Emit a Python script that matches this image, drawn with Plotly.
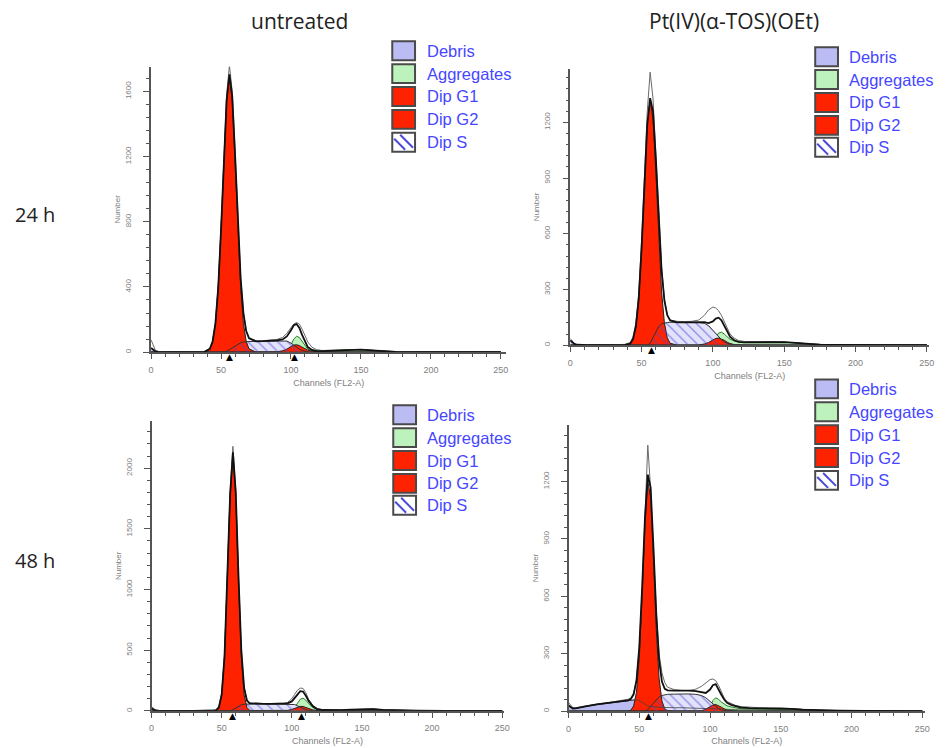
import numpy as np
import plotly.graph_objects as go

# figure drawn from the page origin; kept a hair smaller than the 949 x 748 window
W, H = 947, 746

# ---------------- data ----------------
channels = [0, 1, 2, 3, 5, 8, 12, 20, 30, 38,
            42, 44, 46, 48, 50, 52, 54, 56, 58, 60,
            62, 64, 66, 68, 70, 75, 80, 85, 90, 94,
            97, 100, 102, 104, 106, 108, 110, 112, 115, 118,
            122, 128, 135, 142, 150, 158, 165, 175, 190, 210,
            230, 250]

Z10 = [0] * 10

# Panel 1 : 24 h, untreated
data1 = [75, 55, 30, 12, 4, 2, 1, 1, 2, 4,
         22, 70, 185, 410, 770, 1200, 1580, 1760, 1600, 1240,
         810, 460, 245, 130, 88, 70, 70, 72, 78, 90,
         115, 150, 172, 182, 172, 140, 100, 62, 30, 16,
         10, 10, 13, 16, 16, 11, 6, 3, 1, 1,
         0, 0]
debris1 = [25, 20, 12, 5, 1, 0, 0, 0, 0, 0] + Z10 + Z10 + Z10 + Z10 + [0, 0]
agg1 = Z10 + Z10 + Z10 + [10, 45, 80, 97, 90, 65, 38, 18, 8, 6] + [6, 8, 12, 15, 15, 10, 5, 2, 0, 0] + [0, 0]
g1_1 = Z10 + [20, 65, 176, 397, 749, 1177, 1543, 1690, 1543, 1177] + [749, 397, 176, 65, 20, 0, 0, 0, 0, 0] + Z10 + Z10 + [0, 0]
g2_1 = Z10 + Z10 + [0, 0, 0, 0, 0, 0, 0, 0, 2, 8] + [18, 34, 43, 45, 40, 30, 20, 12, 5, 2] + Z10 + [0, 0]
s1 = Z10 + [0, 0, 0, 0, 0, 0, 5, 15, 28, 40] + [50, 57, 62, 64, 65, 66, 67, 68, 70, 70] + [68, 55, 42, 30, 18, 9, 4, 1, 0, 0] + Z10 + [0, 0]

# Panel 2 : 24 h, Pt(IV)(a-TOS)(OEt)
data2 = [35, 28, 15, 8, 3, 2, 1, 1, 2, 4,
         14, 45, 120, 275, 560, 930, 1260, 1470, 1330, 1030,
         690, 420, 250, 165, 135, 128, 127, 128, 135, 160,
         190, 205, 200, 185, 160, 125, 90, 60, 38, 25,
         20, 18, 18, 19, 18, 13, 8, 4, 2, 1,
         0, 0]
debris2 = [25, 20, 12, 6, 2, 0, 0, 0, 0, 0] + Z10 + Z10 + Z10 + Z10 + [0, 0]
agg2 = Z10 + Z10 + Z10 + [0, 20, 45, 65, 70, 60, 45, 32, 22, 17] + [15, 15, 16, 17, 16, 12, 7, 3, 1, 0] + [0, 0]
g1_2 = Z10 + [8, 32, 100, 250, 520, 875, 1190, 1320, 1220, 930] + [570, 290, 120, 40, 10, 0, 0, 0, 0, 0] + Z10 + Z10 + [0, 0]
g2_2 = Z10 + Z10 + [0, 0, 0, 0, 0, 0, 0, 0, 1, 6] + [14, 28, 36, 38, 34, 26, 16, 9, 3, 1] + Z10 + [0, 0]
s2 = Z10 + [0, 0, 0, 0, 0, 0, 0, 10, 40, 75] + [100, 115, 120, 122, 123, 123, 123, 123, 122, 118] + [105, 80, 62, 45, 30, 18, 9, 4, 1, 0] + Z10 + [0, 0]

# Panel 3 : 48 h, untreated
data3 = [35, 25, 12, 5, 2, 1, 1, 1, 1, 2,
         3, 5, 10, 40, 150, 470, 1090, 1810, 2180, 1820,
         1110, 500, 190, 88, 66, 60, 60, 60, 61, 63,
         70, 100, 135, 170, 188, 185, 150, 95, 45, 20,
         10, 7, 8, 10, 14, 16, 9, 4, 2, 1,
         0, 0]
debris3 = [20, 14, 8, 3, 1, 0, 0, 0, 0, 0] + Z10 + Z10 + Z10 + Z10 + [0, 0]
agg3 = Z10 + Z10 + Z10 + [0, 10, 30, 62, 95, 105, 88, 60, 28, 12] + [6, 5, 6, 9, 13, 15, 8, 3, 1, 0] + [0, 0]
g1_3 = Z10 + [0, 0, 4, 28, 133, 446, 1060, 1780, 2120, 1780] + [1060, 446, 133, 28, 4, 0, 0, 0, 0, 0] + Z10 + Z10 + [0, 0]
g2_3 = Z10 + Z10 + [0, 0, 0, 0, 0, 0, 0, 0, 0, 1] + [4, 12, 20, 30, 37, 36, 28, 18, 8, 3] + [1, 0, 0, 0, 0, 0, 0, 0, 0, 0] + [0, 0]
s3 = Z10 + [0, 0, 0, 0, 0, 0, 0, 0, 10, 25] + [40, 50, 55, 57, 58, 58, 58, 58, 58, 58] + [58, 56, 52, 42, 30, 18, 9, 4, 1, 0] + Z10 + [0, 0]

# Panel 4 : 48 h, Pt(IV)(a-TOS)(OEt)
data4 = [45, 35, 25, 18, 18, 22, 28, 37, 47, 55,
         62, 70, 95, 165, 330, 640, 1010, 1390, 1160, 850,
         520, 300, 200, 150, 125, 112, 108, 108, 115, 130,
         150, 165, 168, 160, 135, 100, 70, 50, 38, 30,
         24, 20, 18, 17, 17, 13, 9, 6, 4, 2,
         1, 0]
debris4 = ([30, 25, 18, 14, 15, 20, 25, 35, 45, 52]
           + [56, 58, 60, 60, 55, 45, 35, 28, 24, 22]
           + [21, 20, 20, 19, 19, 18, 18, 17, 17, 16]
           + [15, 14, 13, 12, 11, 10, 10, 9, 9, 8]
           + [6, 5, 4, 4, 3, 3, 2, 2, 1, 1]
           + [0, 0])
agg4 = Z10 + Z10 + Z10 + [0, 25, 55, 70, 62, 48, 36, 28, 22, 18] + [12, 11, 11, 11, 12, 9, 6, 3, 2, 1] + [0, 0]
g1_4 = Z10 + [0, 5, 27, 99, 280, 600, 975, 1200, 1120, 790] + [425, 172, 53, 12, 2, 0, 0, 0, 0, 0] + Z10 + Z10 + [0, 0]
g2_4 = Z10 + Z10 + [0, 0, 0, 0, 0, 0, 0, 0, 0, 2] + [10, 24, 32, 35, 30, 21, 12, 6, 2, 0] + Z10 + [0, 0]
s4 = Z10 + [0, 0, 0, 0, 0, 0, 0, 8, 25, 45] + [62, 75, 82, 86, 88, 89, 90, 90, 88, 82] + [70, 50, 36, 24, 14, 7, 3, 1, 0, 0] + Z10 + [0, 0]

peak_marks = [[55.7, 102.5], [56.7], [57.7, 106.9], [56.5]]

col_titles = ["untreated", "Pt(IV)(α-TOS)(OEt)"]
row_titles = ["24 h", "48 h"]
legend_labels = ["Debris", "Aggregates", "Dip G1", "Dip G2", "Dip S"]
x_ticks = [0, 50, 100, 150, 200, 250]

# ---------------- layout helpers (target-picture pixels -> paper) ----------------
def px_x(p):
    return p / W

def px_y(p):
    return 1 - p / H

panels = [
    dict(data=data1, debris=debris1, agg=agg1, g1=g1_1, g2=g2_1, s=s1,
         ymax=1752, xmax=254, ytick=400, yminor=80, xdom=(149.5, 508.3), ydom=(67, 354)),
    dict(data=data2, debris=debris2, agg=agg2, g1=g1_2, g2=g2_2, s=s2,
         ymax=1489, xmax=251.6, ytick=300, yminor=60, xdom=(572.7, 935), ydom=(69, 347)),
    dict(data=data3, debris=debris3, agg=agg3, g1=g1_3, g2=g2_3, s=s3,
         ymax=2391, xmax=251, ytick=500, yminor=100, xdom=(150, 505.4), ydom=(423, 714.7)),
    dict(data=data4, debris=debris4, agg=agg4, g1=g1_4, g2=g2_4, s=s4,
         ymax=1497, xmax=252, ytick=300, yminor=60, xdom=(571, 930.9), ydom=(427, 715)),
]

RED = "#ff2200"
DEBRIS = "#bcbcf4"
AGG = "#bdf2bd"
HATCH = "#4a4ad8"
AX = "#555555"
TXT = "#808080"

fig = go.Figure()
annotations = []
shapes = []

for i, p in enumerate(panels, start=1):
    xa = "x" if i == 1 else f"x{i}"
    ya = "y" if i == 1 else f"y{i}"
    common = dict(x=channels, xaxis=xa, yaxis=ya, mode="lines", showlegend=False, hoverinfo="skip")
    fit = np.sum([p["debris"], p["agg"], p["g1"], p["g2"], p["s"]], axis=0)

    fig.add_trace(go.Scatter(y=p["debris"], fill="tozeroy", fillcolor=DEBRIS,
                             line=dict(color="#333", width=0.8), **common))
    fig.add_trace(go.Scatter(y=p["agg"], fill="tozeroy", fillcolor=AGG,
                             line=dict(color="#2a7a2a", width=1), **common))
    fig.add_trace(go.Scatter(y=p["s"], fill="tozeroy", fillcolor="#e2e2fb",
                             line=dict(color="#333", width=0), **common))
    fig.add_trace(go.Scatter(y=p["g1"], fill="tozeroy", fillcolor=RED,
                             line=dict(color="#222", width=1), **common))
    fig.add_trace(go.Scatter(y=p["g2"], fill="tozeroy", fillcolor=RED,
                             line=dict(color="#222", width=1), **common))
    fig.add_trace(go.Scatter(y=p["s"], fill="tozeroy", fillcolor="rgba(0,0,0,0)",
                             fillpattern=dict(shape="\\", fgcolor=HATCH, bgcolor="rgba(0,0,0,0)",
                                              size=7, solidity=0.22),
                             line=dict(color="#333", width=1), **common))
    fig.add_trace(go.Scatter(y=p["debris"], line=dict(color="#444", width=0.8), **common))
    fig.add_trace(go.Scatter(y=p["data"], line=dict(color="#6a6a6a", width=1), **common))
    fig.add_trace(go.Scatter(y=fit, line=dict(color="#111", width=1.8), **common))

    xkey = "xaxis" if i == 1 else f"xaxis{i}"
    ykey = "yaxis" if i == 1 else f"yaxis{i}"
    fig.update_layout(**{
        xkey: dict(domain=[px_x(p["xdom"][0]), px_x(p["xdom"][1])], range=[0, p["xmax"]],
                   anchor=ya, showline=True, linecolor=AX, linewidth=1.5, showgrid=False,
                   zeroline=False, ticks="outside", ticklen=5, tickwidth=1, tickcolor=AX,
                   tickvals=x_ticks, ticklabelstandoff=3,
                   tickfont=dict(family="Liberation Sans", size=9, color=TXT),
                   minor=dict(dtick=10, tick0=0, ticks="outside", ticklen=3, tickcolor=AX, showgrid=False),
                   title=dict(text="Channels (FL2-A)", standoff=6,
                              font=dict(family="Liberation Sans", size=9, color=TXT))),
        ykey: dict(domain=[px_y(p["ydom"][1]), px_y(p["ydom"][0])], range=[0, p["ymax"]],
                   anchor=xa, showline=True, linecolor=AX, linewidth=1.5, showgrid=False,
                   zeroline=False, ticks="outside", ticklen=6, tickwidth=1, tickcolor=AX,
                   dtick=p["ytick"], tick0=0, tickformat="d", tickangle=-90,
                   ticklabelstandoff=9,
                   tickfont=dict(family="Liberation Sans", size=8, color=TXT),
                   minor=dict(dtick=p["yminor"], tick0=0, ticks="outside", ticklen=3,
                              tickcolor=AX, showgrid=False),
                   title=dict(text="Number", standoff=2,
                              font=dict(family="Liberation Sans", size=8, color=TXT))),
    })

    for m in peak_marks[i - 1]:
        annotations.append(dict(x=m, y=0, xref=xa, yref=ya, text="▲", showarrow=False,
                                yanchor="top", yshift=2,
                                font=dict(family="DejaVu Sans", size=9, color="#000")))

# ---------------- titles ----------------
for txt, cx in zip(col_titles, [299, 738]):
    annotations.append(dict(x=px_x(cx), y=px_y(21), xref="paper", yref="paper", text=txt,
                            showarrow=False, xanchor="center", yanchor="middle",
                            font=dict(family="Open Sans", size=21, color="#222")))
for txt, cy in zip(row_titles, [216, 564]):
    annotations.append(dict(x=px_x(32), y=px_y(cy), xref="paper", yref="paper", text=txt,
                            showarrow=False, xanchor="center", yanchor="middle",
                            font=dict(family="Open Sans", size=20, color="#222")))

# ---------------- custom legends ----------------
legend_pos = [
    (393, 426, [51, 74, 97, 120, 143]),
    (820, 852, [57, 80, 103, 126, 148]),
    (394, 426, [417, 440, 463, 486, 508]),
    (820, 852, [391, 414, 437, 460, 483]),
]
box_fills = [DEBRIS, AGG, RED, RED, "#ffffff"]
for bx, tx, rows in legend_pos:
    for lab, fillc, cy in zip(legend_labels, box_fills, rows):
        x0, x1 = bx, bx + 23
        y0, y1 = cy - 9.5, cy + 9.5
        shapes.append(dict(type="rect", xref="paper", yref="paper",
                           x0=px_x(x0), x1=px_x(x1), y0=px_y(y1), y1=px_y(y0),
                           fillcolor=fillc, line=dict(color="#4a4a4a", width=2)))
        if lab == "Dip S":
            for (ax0, ay0, ax1, ay1) in [(x0 + 2, y0 + 6, x0 + 13, y1 - 2), (x0 + 8, y0 + 2, x0 + 21, y1 - 4)]:
                shapes.append(dict(type="line", xref="paper", yref="paper",
                                   x0=px_x(ax0), y0=px_y(ay0), x1=px_x(ax1), y1=px_y(ay1),
                                   line=dict(color=HATCH, width=2)))
        annotations.append(dict(x=px_x(tx), y=px_y(cy), xref="paper", yref="paper", text=lab,
                                showarrow=False, xanchor="left", yanchor="middle",
                                font=dict(family="Liberation Sans", size=16.5, color="#4646ff")))

fig.update_layout(width=W, height=H, margin=dict(l=0, r=0, t=0, b=0),
                  paper_bgcolor="white", plot_bgcolor="white",
                  annotations=annotations, shapes=shapes, showlegend=False)

fig.write_html("out.html")
